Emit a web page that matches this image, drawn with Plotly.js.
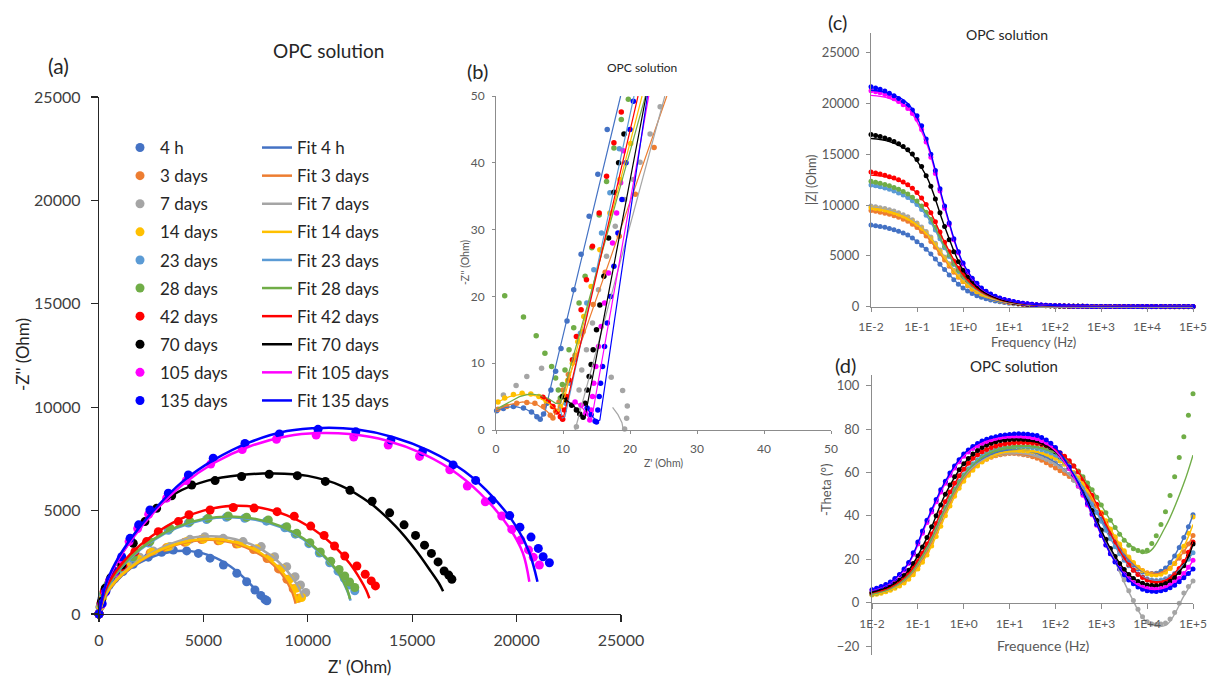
<!DOCTYPE html>
<html><head><meta charset="utf-8">
<script src="https://cdn.plot.ly/plotly-3.0.1.min.js"></script>
<style>html,body{margin:0;padding:0;background:#fff;}#chart{width:1214px;height:677px;}</style>
</head><body><div id="chart"></div>
<script>
// ---------- series labels ----------
const seriesNames = ['4 h','3 days','7 days','14 days','23 days','28 days','42 days','70 days','105 days','135 days'];
const seriesColors = ['#4472C4','#ED7D31','#A5A5A5','#FFC000','#5B9BD5','#70AD47','#FF0000','#000000','#FF00FF','#0000FF'];

// ---------- (a) Nyquist: Z' (re) and -Z'' (im), Ohm ----------
const a_re_4h = [0,50,130,270,480,750,1150,1640,2360,3000,3560,4200,4760,5320,5960,6600,7070,7470,7750,7950,8040];
const a_im_4h = [0,330,700,1050,1380,1700,2050,2400,2750,2980,3090,3050,2930,2700,2370,1970,1560,1160,900,700,640];
const a_re_3d = [0,60,160,320,560,850,1300,1830,2450,3220,4100,4900,5700,6580,7400,8050,8600,9000,9300,9550];
const a_im_3d = [0,370,780,1170,1520,1850,2250,2620,2950,3200,3470,3600,3540,3380,3120,2680,2180,1680,1220,760];
const a_re_7d = [0,70,180,360,620,930,1400,1950,2600,3400,4360,5070,5950,6900,7770,8410,8990,9390,9650,9900];
const a_im_7d = [0,400,850,1250,1600,1950,2350,2750,3050,3260,3610,3740,3660,3500,3260,2770,2290,1800,1400,1040];
const a_re_14d = [0,70,170,340,590,890,1350,1890,2520,3300,4200,5000,5800,6700,7550,8200,8750,9150,9450,9700];
const a_im_14d = [0,380,800,1200,1550,1880,2280,2650,2980,3230,3500,3620,3560,3400,3150,2700,2200,1700,1250,800];
const a_re_23d = [0,80,210,420,720,1060,1600,2380,3320,4280,5150,6100,6980,8020,8900,9400,10050,10550,11050,11450,11750,12000,12250];
const a_im_23d = [0,450,950,1400,1800,2200,2720,3430,4050,4400,4570,4680,4630,4490,4170,3860,3400,2950,2480,2070,1720,1400,1120];
const a_re_28d = [0,90,230,450,750,1100,1640,2440,3400,4360,5230,6190,7070,8110,8990,9470,10100,10600,11100,11500,11770,12000,12250];
const a_im_28d = [0,480,1000,1450,1850,2250,2770,3500,4140,4470,4630,4740,4680,4550,4220,3900,3450,3000,2550,2150,1840,1550,1280];
const a_re_42d = [0,100,250,500,800,1150,1720,2280,2840,3800,4310,5320,6430,7430,8530,9350,10140,10780,11280,11770,12350,12750,13040,13240];
const a_im_42d = [0,550,1100,1600,1950,2290,3010,3500,3980,4470,4800,5030,5150,5120,4950,4730,4250,3800,3290,2800,2320,1920,1600,1360];
const a_re_70d = [0,120,300,560,1090,1640,2200,2760,3480,4440,5560,6830,8150,9500,10840,12020,13080,13920,14610,15160,15590,15920,16240,16530,16750,16900];
const a_im_70d = [0,600,1250,1750,2370,3420,4470,5110,5720,6240,6450,6650,6760,6690,6410,5980,5450,4890,4310,3800,3330,2930,2520,2080,1880,1680];
const a_re_105d = [0,140,310,500,740,1050,1440,1850,2380,3240,4180,5350,6860,8500,10400,12200,13850,15350,16800,17640,18500,19290,19770,20200,20570,20800,21090];
const a_im_105d = [0,480,1060,1580,1980,2650,3500,4130,4820,5600,6450,7250,7950,8450,8650,8560,8170,7620,6970,6190,5430,4740,4090,3580,3100,2740,2370];
const a_re_135d = [0,150,330,530,770,1090,1490,1900,2440,3320,4280,5470,6990,8640,10490,12300,13980,15490,16960,18040,18820,19670,20160,20690,21040,21270,21570];
const a_im_135d = [0,500,1100,1650,2050,2770,3660,4310,5030,5840,6720,7530,8250,8710,8930,8810,8410,7850,7210,6460,5500,4760,4200,3720,3170,2770,2480];

const af_re_4h = [0,300,800,1500,2400,3400,4400,5400,6300,7100,7600,7900,8100];
const af_im_4h = [0,850,1550,2200,2700,3000,3040,2800,2300,1600,1050,700,550];
const af_re_3d = [0,300,800,1500,2500,3600,4800,5900,7000,8000,8750,9200,9420];
const af_im_3d = [0,880,1570,2220,2870,3320,3570,3550,3240,2680,1930,1180,500];
const af_re_7d = [0,300,800,1500,2500,3600,4800,6000,7200,8200,9000,9500,9780];
const af_im_7d = [0,950,1650,2300,2950,3450,3730,3720,3400,2850,2100,1400,800];
const af_re_14d = [0,300,800,1500,2500,3600,4800,6000,7100,8100,8850,9300,9510];
const af_im_14d = [0,900,1600,2250,2900,3350,3600,3580,3270,2700,1950,1200,530];
const af_re_23d = [0,300,800,1500,2500,3700,5000,6300,7500,8700,9800,10800,11500,11900,12050];
const af_im_23d = [0,1050,1900,2700,3500,4150,4560,4680,4560,4200,3600,2750,1900,1100,650];
const af_re_28d = [0,300,800,1500,2500,3700,5000,6300,7500,8700,9800,10800,11500,11900,12020];
const af_im_28d = [0,1100,1950,2750,3550,4200,4600,4720,4600,4250,3650,2800,1950,1150,720];
const af_re_42d = [0,300,800,1500,2500,3800,5000,6400,7800,9000,10200,11200,12000,12500,12800,12950];
const af_im_42d = [0,1150,2050,2900,3750,4550,5000,5230,5130,4770,4150,3350,2450,1700,1150,760];
const af_re_70d = [0,300,800,1500,2500,3700,5200,6800,8400,10000,11600,13000,14200,15200,15900,16300,16480];
const af_im_70d = [0,1300,2400,3550,4850,5850,6450,6720,6800,6680,6200,5350,4250,3050,2050,1450,1100];
const af_re_105d = [0,300,800,1600,2700,4000,5500,7200,9000,10500,12000,13800,15500,17200,18600,19700,20300,20610];
const af_im_105d = [0,1300,2400,3650,5000,6250,7300,8100,8600,8750,8700,8380,7750,6750,5480,4100,2950,1560];
const af_re_135d = [0,300,800,1600,2700,4000,5500,7200,9000,10700,12300,14100,15800,17500,18900,20000,20600,21000];
const af_im_135d = [0,1350,2500,3750,5100,6400,7450,8300,8850,9000,8930,8550,7900,6900,5620,4200,3000,1560];

// ---------- (b) high-frequency Nyquist zoom, Ohm ----------
const b_re_4h = [0.1,1.1,2.6,4.1,5.3,6.1,6.6,7.1,7.6,8.2,8.9,9.7,10.6,11.6,12.7,13.9,15.2,16.6];
const b_im_4h = [2.9,3.2,3.5,3.3,2.7,2.0,1.6,2.4,4.0,6.0,8.8,12.2,16.3,21,26.3,32,38.3,45];
const b_re_3d = [0.3,1.6,3.1,4.6,5.8,7.1,8.1,8.5,8.9,9.4,10.0,10.8,11.8,13,14.5,16.3,18.4,20.8,23.6];
const b_im_3d = [3.1,3.5,4.0,4.1,4.0,3.5,2.2,1.8,2.8,4.2,6.0,8.3,11.2,14.7,18.8,23.6,29,35.3,42.3];
const b_re_7d = [1.1,3.0,4.6,6.8,17.2,18.9,19.6,19.5,19.2,12.0,12.2,12.4,12.8,13.5,14.4,15.3,16.5,17.8,19.2,20.5,21.5,23.0,24.5];
const b_im_7d = [5.25,6.65,8.0,9.25,7.9,5.9,3.6,1.75,0.15,0.5,3,6,9,12,16,21,26,30.5,34.5,37.5,40.1,44.3,48.4];
const b_re_14d = [0.3,1.3,2.6,3.9,5.2,6.4,7.5,8.4,9.1,9.6,10.1,10.7,11.4,12.2,13.1,14.2,15.5,17,18.5,20.1];
const b_im_14d = [4.2,4.8,5.3,5.5,5.4,5.0,4.3,3.5,2.8,3.5,5.2,7.4,10,13.2,17,21.5,27,32.5,37.5,42.9];
const b_re_23d = [9.9,10.4,11.0,11.75,12.6,13.55,14.6,15.75,17.0,18.4];
const b_im_23d = [1.7,4,7,10.5,14.5,19,24,29.5,35.5,42.1];
const b_re_28d = [1.3,4.1,6.0,7.3,8.3,8.9,9.3,9.6,9.9,10.3,10.9,11.6,12.4,13.3,14.3,15.4,16.5,17.6,18.7,19.75];
const b_im_28d = [20.1,16.9,14.1,11.5,9.5,7.8,6.0,4.8,6.8,9,12,15.3,19,23,27.3,32.2,37.2,42.2,46.5,49.5];
const b_re_42d = [7.0,7.8,8.5,9.1,9.6,9.95,10.2,10.5,10.9,11.4,12.0,12.7,13.5,14.4,15.4,16.5,17.6,18.7];
const b_im_42d = [4.9,4.3,3.5,2.7,2.0,1.6,3.0,5.0,7.5,10.5,14.0,18.0,22.5,27.5,32.5,38,43,47.6];
const b_re_70d = [9.9,10.5,11.3,12.0,12.5,13.0,13.3,13.6,13.9,14.2,14.5,15.0,15.5,16.1,16.8,17.6,18.3,19.1];
const b_im_70d = [5.0,4.5,3.7,3.0,2.4,1.9,4,6,8,9.8,12,15,18.7,23,28.75,35.6,40,44.3];
const b_re_105d = [11.8,12.7,13.4,14.0,14.2,14.4,14.6,14.9,15.3,15.7,16.2,16.8,17.4,18.0,18.6,19.0];
const b_im_105d = [4.2,3.7,2.5,1.5,3,5,7,9.5,12.5,15.5,19,23.5,28,32.5,37,41.8];
const b_re_135d = [13.6,14.2,14.8,15.0,15.2,15.4,15.6,15.9,16.2,16.6,17.1,17.6,18.2,18.8,19.4,20.0,20.5];
const b_im_135d = [3.3,2.3,1.3,1.2,3,5,7,9.5,12.5,16,20,24.5,29.5,34.5,40,45,49.2];

const bf_re_4h = [0,1.5,3,4.5,5.7,6.6,7.3,8.3,18.6];
const bf_im_4h = [2.9,3.4,3.5,3.1,2.4,1.7,2.6,7,50];
const bf_re_3d = [0,2,4,6,7.6,8.5,9.2,25.5];
const bf_im_3d = [3.0,3.8,4.2,3.9,2.8,1.9,3.0,50];
const bf_re_7d = [11.8,25.2,null,17.4,18.2,18.8,19.0];
const bf_im_7d = [0,50,null,3.4,2.3,1.1,0];
const bf_re_14d = [0,2,4,6,8,9.3,10,21.8];
const bf_im_14d = [4.1,5.0,5.4,5.1,3.9,2.8,4,50];
const bf_re_23d = [9.5,9.9,10.3,20.6];
const bf_im_23d = [3.5,1.8,2.0,50];
const bf_re_28d = [0.2,1.6,3.5,5.1,6.6,7.8,8.9,9.6,22.3];
const bf_im_28d = [3.2,4.0,5.0,5.4,5.2,4.7,4.0,4.0,50];
const bf_re_42d = [7,8.5,9.7,10.1,21.2];
const bf_im_42d = [5.2,3.6,2.0,2.0,50];
const bf_re_70d = [10.1,11.5,12.5,13.1,13.3,22.4];
const bf_im_70d = [4.8,3.7,2.6,1.9,2.0,50];
const bf_re_105d = [11.8,13,14,14.3,22.8];
const bf_im_105d = [4.3,3.2,1.6,1.8,50];
const bf_re_135d = [13.5,14.5,15.1,15.5,22.6];
const bf_im_135d = [3.4,1.9,1.3,1.5,50];

// ---------- frequencies (Hz) ----------
const freq = [0.01,0.0126,0.0158,0.02,0.0251,0.0316,0.0398,0.0501,0.0631,0.0794,
  0.1,0.126,0.158,0.2,0.251,0.316,0.398,0.501,0.631,0.794,
  1,1.26,1.58,2,2.51,3.16,3.98,5.01,6.31,7.94,
  10,12.6,15.8,20,25.1,31.6,39.8,50.1,63.1,79.4,
  100,126,158,200,251,316,398,501,631,794,
  1000,1260,1580,2000,2510,3160,3980,5010,6310,7940,
  10000,12600,15800,20000,25100,31600,39800,50100,63100,79400,100000];
const freqFit = [0.01,0.0251,0.0631,0.158,0.398,1,2.51,6.31,15.8,39.8,100,251,631,1580,3980,10000,25100,63100,100000];
const freqTickVals = [0.01,0.1,1,10,100,1000,10000,100000];
const freqTickText = ['1E-2','1E-1','1E+0','1E+1','1E+2','1E+3','1E+4','1E+5'];

// ---------- (c) |Z| (Ohm) ----------
const c_4h = [8040,7980,7900,7810,7700,7570,7420,7250,7050,6760,6400,6040,5650,5190,4700,4180,3650,3130,2650,2220,1850,1550,1300,1090,920,780,660,560,480,410,350,300,260,222,190,162,138,117,98,83,70,60,51,43,37,32,28,24,21,18.3,16,14.1,12.5,11.2,10,9.2,8.5,8,7.5,7.1,6.8,6.5,6.3,6.1,6,5.9,5.8,5.75,5.7,5.65,5.6];
const c_3d = [9480,9400,9300,9210,9100,8960,8800,8610,8400,8120,7800,7410,6950,6420,5850,5230,4600,3980,3400,2890,2450,2060,1720,1440,1200,1000,840,700,590,495,418,352,295,248,208,175,147,124,104,88,74,63,53,45,39,34,29,25,22,19.3,17,15.1,13.5,12.2,11,10.2,9.5,9,8.5,8.2,8,7.8,7.6,7.4,7.3,7.2,7.1,7,7,7,7];
const c_7d = [9920,9840,9750,9660,9550,9410,9250,9060,8850,8570,8250,7850,7400,6850,6250,5580,4900,4220,3600,3040,2550,2140,1780,1490,1240,1040,860,720,600,505,428,360,302,254,212,178,150,126,106,90,76,65,55,47,41,35,31,27,24,21,19,17.4,16,14.9,14,13.4,13,12.7,12.5,12.4,12.3,12.3,12.4,12.6,13,13.7,14.5,15.5,16.5,17.7,19];
const c_14d = [9750,9670,9580,9490,9380,9240,9080,8890,8680,8400,8080,7690,7250,6710,6120,5470,4800,4140,3520,2970,2500,2100,1750,1460,1220,1020,850,710,595,500,424,357,298,250,210,177,148,124,105,89,75,64,54,46,40,35,30,26,23,20.3,18,16.1,14.5,13.2,12,11,10.2,9.5,9,8.6,8.3,8,7.8,7.6,7.5,7.4,7.3,7.25,7.2,7.2,7.2];
const c_23d = [11980,11900,11800,11690,11550,11390,11200,10990,10750,10430,10050,9560,9000,8320,7550,6700,5800,4950,4150,3470,2900,2420,2000,1660,1380,1140,940,780,650,545,455,380,318,267,222,187,156,131,110,93,79,67,57,49,42,37,32,28,24,21,19,16.8,15,13.6,12.5,11.7,11,10.6,10.2,9.9,9.7,9.5,9.4,9.3,9.2,9.15,9.1,9.05,9,9,9];
const c_28d = [12350,12260,12150,12030,11900,11740,11550,11340,11100,10780,10400,9900,9300,8600,7800,6900,5950,5080,4250,3560,2950,2470,2050,1700,1420,1170,960,800,665,555,460,385,320,270,225,190,158,133,112,95,80,68,58,50,43,38,33,29,25,22,19.5,17.3,15.5,13.8,12.5,11.4,10.5,10,9.8,10,10.5,11.2,12,13,14,15.2,16.5,17.8,19,19.6,20];
const c_42d = [13250,13160,13050,12930,12800,12660,12500,12280,12000,11660,11250,10700,10050,9250,8350,7350,6350,5400,4500,3780,3150,2620,2150,1770,1450,1200,980,820,680,565,470,395,330,275,230,195,160,135,113,95,80,68,58,50,43,38,33,29,25,22,19.5,17.3,15.5,14.2,13,12.2,11.5,11.1,10.8,10.6,10.4,10.3,10.2,10.1,10.1,10,10,10,10,10,10];
const c_70d = [16950,16860,16750,16610,16450,16270,16050,15780,15450,15020,14500,13800,12900,11850,10600,9250,7900,6600,5400,4420,3600,2950,2400,1950,1580,1300,1070,890,735,610,510,425,355,295,245,205,170,143,120,100,85,72,62,53,46,40,35,31,27,24,21,19,17.5,16.2,15,14.5,14,13.6,13.3,13.1,13,12.9,12.8,12.7,12.6,12.5,12.5,12.5,12.5,12.5,12.5];
const c_105d = [21250,21160,21050,20890,20700,20470,20200,19880,19500,19020,18450,17450,16200,14700,13100,11400,9700,8100,6600,5300,4200,3420,2750,2250,1800,1490,1220,1010,840,700,590,490,410,340,285,235,195,165,138,116,98,83,70,60,52,45,39,34,30,27,24,22,20,18.7,17.5,16.7,16,15.5,15,14.7,14.5,14.4,14.3,14.2,14.2,14.1,14.1,14,14,14,14];
const c_135d = [21650,21530,21400,21220,21000,20770,20500,20180,19800,19350,18800,17800,16500,15000,13400,11600,9900,8250,6700,5400,4300,3500,2800,2300,1850,1520,1250,1030,860,720,600,500,420,350,290,240,200,170,140,120,100,85,72,62,53,46,40,35,31,28,25,23,21,19.5,18,17.5,17,16.5,16,15.7,15.5,15.4,15.3,15.2,15.2,15.1,15.1,15,15,15,15];

const cf_4h = [8000,7680,7030,5650,3650,1850,920,480,260,138,70,37,21,12.5,8.5,6.8,6,5.7,5.6];
const cf_3d = [9400,9080,8380,6950,4600,2450,1200,590,295,147,74,39,22,13.5,9.5,8,7.3,7,7];
const cf_7d = [9850,9530,8830,7400,4900,2550,1240,600,302,150,76,41,24,16,13,12.3,13,16.5,19];
const cf_14d = [9680,9350,8650,7250,4800,2500,1220,595,298,148,75,40,23,14.5,10.2,8.3,7.5,7.2,7.2];
const cf_23d = [11880,11500,10700,9000,5800,2900,1380,650,318,156,79,42,24,15,11,9.7,9.2,9,9];
const cf_28d = [12200,11880,11080,9300,5950,2950,1420,665,320,158,80,43,25,15.5,10.5,10.2,13.5,18,20];
const cf_42d = [12950,12700,11950,10050,6350,3150,1450,680,330,160,80,43,25,15.5,11.5,10.4,10.1,10,10];
const cf_70d = [16550,16250,15350,12900,7900,3600,1580,735,355,170,85,46,27,17.5,14,13,12.6,12.5,12.5];
const cf_105d = [20800,20500,19550,16200,9700,4200,1800,840,410,195,98,52,30,20,16,14.5,14.2,14,14];
const cf_135d = [21300,21000,20000,16500,9900,4300,1850,860,420,200,100,53,31,21,17,15.5,15.2,15,15];

// ---------- (d) -Theta (deg) ----------
const d_4h = [3.8,4.3,4.8,5.4,6.2,7.2,8.5,10.1,12,14.3,17,20.3,24,28.4,33,37.8,42.5,46.9,51,54.5,57.5,60.2,62.5,64.4,66,67.3,68.3,69.1,69.7,70.1,70.3,70.4,70.3,70.1,69.8,69.4,68.8,68,67,65.9,64.5,62.9,61,58.9,56.5,53.9,51,48.1,45,41.8,38.5,35,31.5,28.2,25,22.1,19.5,17.3,15.5,14.3,13.5,13.4,13.6,14.5,16,18.5,21.5,25.4,30,35,40.5];
const d_3d = [3.8,4.3,4.8,5.4,6.2,7.2,8.4,9.9,11.8,14.1,16.8,20,23.5,27.9,32.5,37.3,42,46.4,50.5,54,57,59.6,61.8,63.6,65,66.1,67,67.7,68.2,68.5,68.7,68.7,68.5,68.2,67.8,67.2,66.5,65.6,64.5,63.3,62,60.8,59.5,58.1,56.5,54.6,52.5,50.1,47.5,44.4,41,37.3,33.5,29.9,26.5,23.3,20.5,18.1,16.2,14.8,13.8,13.3,13.2,13.6,14.5,16,18,20.5,23.5,27,31];
const d_7d = [4,4.5,5,5.7,6.5,7.5,8.8,10.3,12.3,14.7,17.5,20.8,24.5,28.8,33.5,38.2,43,47.4,51.5,55,58,60.4,62.5,64.2,65.5,66.6,67.5,68.1,68.5,68.8,69,69,68.8,68.5,68.2,67.8,67.3,66.7,66,65.1,64,62.7,61,59,56.5,53.5,50,46.2,42,37.6,33,28.5,24,19.7,15.5,10.5,5.5,1,-3,-6.5,-8.8,-9.8,-10,-9.8,-9.3,-7.5,-4.5,-0.3,4.5,7.5,10];
const d_14d = [3.5,3.9,4.4,5,5.7,6.6,7.7,9.1,10.8,12.9,15.5,18.6,22,26.1,30.5,35.2,40,44.6,49,52.7,56,58.7,61,63,64.8,66.2,67.3,68.1,68.8,69.3,69.6,69.9,70,70,69.9,69.7,69.3,68.8,68.2,67.4,66.5,65.3,63.8,62.1,60,57.6,54.8,51.8,48.5,45.1,41.5,37.8,34,30.4,27,23.9,21,18.5,16.3,14.7,13.5,12.9,12.7,13.1,14,15.7,18,21.5,26,32,39.5];
const d_23d = [4,4.5,5,5.7,6.5,7.5,8.8,10.5,12.5,14.9,17.8,21.4,25.3,29.8,34.5,39.3,44,48.4,52.5,56,59,61.7,64,65.9,67.5,68.8,69.8,70.5,71,71.4,71.6,71.8,71.8,71.7,71.6,71.4,71,70.5,69.8,68.9,67.8,66.3,64.5,62.2,59.5,56.4,53,49.3,45.5,41.5,37.5,33.4,29.5,25.8,22.5,19.6,17,14.9,13.2,11.9,11,10.5,10.2,10.4,11,12.1,13.5,15.3,17.5,20,23];
const d_28d = [4,4.5,5,5.7,6.5,7.5,8.8,10.5,12.5,14.8,17.5,21,25,29.5,34,38.8,43.5,48,52,55.4,58.5,61.2,63.5,65.4,67,68.3,69.3,70.1,70.8,71.3,71.6,71.9,72,72,72,71.8,71.5,71.1,70.5,69.9,69,67.9,66.5,64.9,63,60.7,58,55.2,52,48.6,45,41.4,38,34.6,31.5,28.8,26.5,24.9,24,23.5,24.2,27.3,30.8,36,41.9,49.4,58,66.9,76.4,86.4,96.3];
const d_42d = [4.5,5,5.5,6.2,7,8.1,9.5,11.3,13.5,16,19,22.8,27,31.7,36.5,41.5,46.5,51,55,58.5,61.5,64.2,66.5,68.2,69.5,70.6,71.5,72.2,72.8,73.2,73.5,73.7,73.8,73.8,73.8,73.6,73.3,72.9,72.3,71.5,70.5,69.1,67.5,65.4,63,60.2,57,53.4,49.5,45.3,41,36.5,32,27.9,24,20.6,17.5,15,13,11.6,10.5,9.9,9.6,9.8,10.3,11.4,13,15.7,19,23.2,28];
const d_70d = [4.8,5.3,6,6.8,7.8,9,10.5,12.5,15,18,21.5,25.6,30,35,40,45,50,54.2,58,61.2,64,66.4,68.5,70.1,71.5,72.6,73.5,74.2,74.7,75,75.2,75.3,75.3,75.2,75,74.6,74,73.3,72.5,71.1,69.5,67.4,65,61.9,58.5,54.8,51,46.8,42.5,38,33.5,29.2,25,21.3,18,15.3,13,11.2,9.8,8.9,8.2,7.9,7.8,8.1,8.8,9.9,11.5,13.9,17,21.5,27];
const d_105d = [5.8,6.5,7.2,8.1,9.2,10.8,12.7,15,18,22.3,27,32,37,41.8,46.5,51,55,58.7,62,64.9,67.5,69.4,71,72.3,73.5,74.3,75,75.5,76,76.3,76.5,76.6,76.6,76.5,76.3,75.9,75.5,74.6,73.5,71.9,70,67.7,65,61.7,58,53.8,49.5,45,40.5,35.7,31,26.6,22.5,18.9,15.8,13.2,11,9.3,8,7.1,6.5,6.3,6.2,6.5,7,8.1,9.5,11.3,13.5,16.3,19.5];
const d_135d = [6,6.7,7.5,8.4,9.5,11.1,13,15.5,18.5,23,28,33,38,42.8,47.5,52,56,59.7,63,65.9,68.5,70.4,72,73.3,74.5,75.3,76,76.5,77,77.3,77.5,77.7,77.8,77.7,77.6,77.3,77,76.1,75,73.4,71.5,69,66,62.6,59,54.8,50.5,45.8,41,36,31,26.6,22.5,18.8,15.5,12.8,10.5,8.7,7.2,6.2,5.5,5.3,5.2,5.5,6,6.9,8,9.6,11.5,13.4,15.5];

const df_4h = [3.8,6.2,12,24,42.5,57.5,66,69.7,70.3,68.8,64.5,56.5,45,31.5,19.5,13.5,16,30,40.5];
const df_3d = [3.8,6.2,11.8,23.5,42,57,65,68.2,68.5,66.5,62,56.5,47.5,33.5,20.5,13.8,14.5,23.5,31];
const df_7d = [4,6.5,12.3,24.5,43,58,65.5,68.5,68.8,67.3,64,56.5,42,24,5,-9,-10.5,3,10];
const df_14d = [3.5,5.7,10.8,22,40,56,64.8,68.8,70,69.3,66.5,60,48.5,34,21,13.5,14,26,36];
const df_23d = [4,6.5,12.5,25.3,44,59,67.5,71,71.8,71,67.8,59.5,45.5,29.5,17,11,11,17.5,23];
const df_28d = [4,6.5,12.5,25,43.5,58.5,67,70.8,72,71.5,69,63,52,38,27,23,35,55,68];
const df_42d = [4.5,7,13.5,27,46.5,61.5,69.5,72.8,73.8,73.3,70.5,63,49.5,32,17.5,10.5,10.3,19,28];
const df_70d = [4.8,7.8,15,30,50,64,71.5,74.7,75.3,74,69.5,58.5,42.5,25,13,8.2,8.8,17,27];
const df_105d = [5.8,9.2,18,37,55,67.5,73.5,76,76.6,75.5,70,58,40.5,22.5,11,6.5,7,13.5,19.5];
const df_135d = [6,9.5,18.5,38,56,68.5,74.5,77,77.8,77,71.5,59,41,22.5,10.5,5.5,6,11.5,15.5];

// ---------- assemble ----------
const A_re=[a_re_4h,a_re_3d,a_re_7d,a_re_14d,a_re_23d,a_re_28d,a_re_42d,a_re_70d,a_re_105d,a_re_135d];
const A_im=[a_im_4h,a_im_3d,a_im_7d,a_im_14d,a_im_23d,a_im_28d,a_im_42d,a_im_70d,a_im_105d,a_im_135d];
const AF_re=[af_re_4h,af_re_3d,af_re_7d,af_re_14d,af_re_23d,af_re_28d,af_re_42d,af_re_70d,af_re_105d,af_re_135d];
const AF_im=[af_im_4h,af_im_3d,af_im_7d,af_im_14d,af_im_23d,af_im_28d,af_im_42d,af_im_70d,af_im_105d,af_im_135d];
const B_re=[b_re_4h,b_re_3d,b_re_7d,b_re_14d,b_re_23d,b_re_28d,b_re_42d,b_re_70d,b_re_105d,b_re_135d];
const B_im=[b_im_4h,b_im_3d,b_im_7d,b_im_14d,b_im_23d,b_im_28d,b_im_42d,b_im_70d,b_im_105d,b_im_135d];
const BF_re=[bf_re_4h,bf_re_3d,bf_re_7d,bf_re_14d,bf_re_23d,bf_re_28d,bf_re_42d,bf_re_70d,bf_re_105d,bf_re_135d];
const BF_im=[bf_im_4h,bf_im_3d,bf_im_7d,bf_im_14d,bf_im_23d,bf_im_28d,bf_im_42d,bf_im_70d,bf_im_105d,bf_im_135d];
const C=[c_4h,c_3d,c_7d,c_14d,c_23d,c_28d,c_42d,c_70d,c_105d,c_135d];
const CF=[cf_4h,cf_3d,cf_7d,cf_14d,cf_23d,cf_28d,cf_42d,cf_70d,cf_105d,cf_135d];
const D=[d_4h,d_3d,d_7d,d_14d,d_23d,d_28d,d_42d,d_70d,d_105d,d_135d];
const DF=[df_4h,df_3d,df_7d,df_14d,df_23d,df_28d,df_42d,df_70d,df_105d,df_135d];

const FONT='Lato, "Open Sans", sans-serif';
const traces=[];
const n=seriesNames.length;
// (a)
for(let i=0;i<n;i++) traces.push({type:'scatter',mode:'markers',x:A_re[i],y:A_im[i],xaxis:'x',yaxis:'y',name:seriesNames[i],legend:'legend',legendgroup:'d'+i,marker:{color:seriesColors[i],size:9},cliponaxis:false});
for(let i=0;i<n;i++) traces.push({type:'scatter',mode:'lines',x:AF_re[i],y:AF_im[i],xaxis:'x',yaxis:'y',name:'Fit '+seriesNames[i],legend:'legend2',legendgroup:'f'+i,line:{color:seriesColors[i],width:2.5,shape:'spline',smoothing:1},cliponaxis:false});
// (b)
for(let i=0;i<n;i++) traces.push({type:'scatter',mode:'markers',x:B_re[i],y:B_im[i],xaxis:'x2',yaxis:'y2',showlegend:false,marker:{color:seriesColors[i],size:5.5},cliponaxis:false});
for(let i=0;i<n;i++) traces.push({type:'scatter',mode:'lines',x:BF_re[i],y:BF_im[i],xaxis:'x2',yaxis:'y2',showlegend:false,connectgaps:false,line:{color:seriesColors[i],width:1.2},cliponaxis:false});
// (c)
for(let i=0;i<n;i++) traces.push({type:'scatter',mode:'markers',x:freq,y:C[i],xaxis:'x3',yaxis:'y3',showlegend:false,marker:{color:seriesColors[i],size:5},cliponaxis:false});
for(let i=0;i<n;i++) traces.push({type:'scatter',mode:'lines',x:freqFit,y:CF[i],xaxis:'x3',yaxis:'y3',showlegend:false,line:{color:seriesColors[i],width:1.4,shape:'spline'},cliponaxis:false});
// (d)
for(let i=0;i<n;i++) traces.push({type:'scatter',mode:'markers',x:freq,y:D[i],xaxis:'x4',yaxis:'y4',showlegend:false,marker:{color:seriesColors[i],size:5},cliponaxis:false});
for(let i=0;i<n;i++) traces.push({type:'scatter',mode:'lines',x:freqFit,y:DF[i],xaxis:'x4',yaxis:'y4',showlegend:false,line:{color:seriesColors[i],width:1.4,shape:'spline'},cliponaxis:false});

const W=1214,H=677;
const px=v=>v/W, py=v=>1-v/H;
const axA={showgrid:false,zeroline:false,showline:true,linecolor:'#262626',linewidth:1.3,ticks:'outside',ticklen:7,tickcolor:'#262626',tickwidth:1.3,tickfont:{family:FONT,size:16,color:'#404040'},range:[0,25000],dtick:5000,tick0:0,tickformat:'d'};
const axG={showgrid:false,zeroline:false,showline:true,linecolor:'#8c8c8c',linewidth:1,ticks:'outside',tickcolor:'#8c8c8c'};

const ann=(text,x,y,size,opts={})=>Object.assign({text,x:px(x),y:py(y),xref:'paper',yref:'paper',showarrow:false,xanchor:'center',yanchor:'middle',font:{family:FONT,size,color:'#262626'}},opts);

const layout={
  width:W,height:H,margin:{l:0,r:0,t:0,b:0},paper_bgcolor:'#ffffff',plot_bgcolor:'rgba(0,0,0,0)',
  font:{family:FONT},
  xaxis:Object.assign({},axA,{domain:[px(99),px(621)],anchor:'y',ticklabelstandoff:4}),
  yaxis:Object.assign({},axA,{domain:[py(614),py(97)],anchor:'x',ticklabelstandoff:7}),
  xaxis2:Object.assign({},axG,{domain:[px(496),px(831)],anchor:'y2',range:[0,50],dtick:10,ticklen:3,tickfont:{family:FONT,size:12,color:'#595959'},ticklabelstandoff:5}),
  yaxis2:Object.assign({},axG,{domain:[py(430),py(96)],anchor:'x2',range:[0,50],dtick:10,ticklen:3,tickfont:{family:FONT,size:12,color:'#595959'},ticklabelstandoff:5}),
  xaxis3:Object.assign({},axG,{type:'log',domain:[px(871),px(1193)],anchor:'y3',range:[-2,5],tickvals:freqTickVals,ticktext:freqTickText,ticklen:4,tickfont:{family:FONT,size:12,color:'#595959'},ticklabelstandoff:5}),
  yaxis3:Object.assign({},axG,{domain:[py(306.7),py(33)],anchor:'x3',range:[0,26940],dtick:5000,tickformat:'d',ticklen:4,tickfont:{family:FONT,size:13,color:'#595959'},ticklabelstandoff:4}),
  xaxis4:Object.assign({},axG,{type:'log',domain:[px(872),px(1193)],anchor:'free',position:py(602.7),range:[-2,5],tickvals:freqTickVals,ticktext:freqTickText,ticklen:5,tickfont:{family:FONT,size:12,color:'#595959'},ticklabelstandoff:5}),
  yaxis4:Object.assign({},axG,{domain:[py(655),py(375)],anchor:'x4',range:[-24.1,104.9],dtick:20,tick0:0,ticklen:5,tickfont:{family:FONT,size:13,color:'#595959'},ticklabelstandoff:4}),
  legend:{x:px(120),y:py(130),xanchor:'left',yanchor:'top',bgcolor:'rgba(0,0,0,0)',font:{family:FONT,size:17,color:'#262626'},tracegroupgap:3,itemwidth:30},
  legend2:{x:px(257),y:py(130),xanchor:'left',yanchor:'top',bgcolor:'rgba(0,0,0,0)',font:{family:FONT,size:17,color:'#262626'},tracegroupgap:3,itemwidth:30},
  annotations:[
    ann('OPC solution',329,50,19),
    ann('(a)',58,65,21),
    ann("-Z'' (Ohm)",22,355,17,{textangle:-90}),
    ann("Z' (Ohm)",359,666,17),
    ann('(b)',477,71,20),
    ann('OPC solution',642,67,12),
    ann("-Z'' (Ohm)",465,263,10.5,{textangle:-90,font:{family:FONT,size:10.5,color:'#595959'}}),
    ann("Z' (Ohm)",663,463,10.5,{font:{family:FONT,size:10.5,color:'#595959'}}),
    ann('(c)',837,22,20),
    ann('OPC solution',1007,35,14),
    ann('|Z| (Ohm)',812,180,12.5,{textangle:-90,font:{family:FONT,size:12.5,color:'#595959'}}),
    ann('Frequency (Hz)',1033,342,13,{font:{family:FONT,size:13,color:'#595959'}}),
    ann('(d)',845,365,20),
    ann('OPC solution',1014,366,15),
    ann('-Theta (°)',826,490,13,{textangle:-90,font:{family:FONT,size:13,color:'#595959'}}),
    ann('Frequence (Hz)',1043,645,14,{font:{family:FONT,size:14,color:'#595959'}})
  ]
};
Plotly.newPlot('chart',traces,layout,{displayModeBar:false,staticPlot:true});
</script></body></html>
